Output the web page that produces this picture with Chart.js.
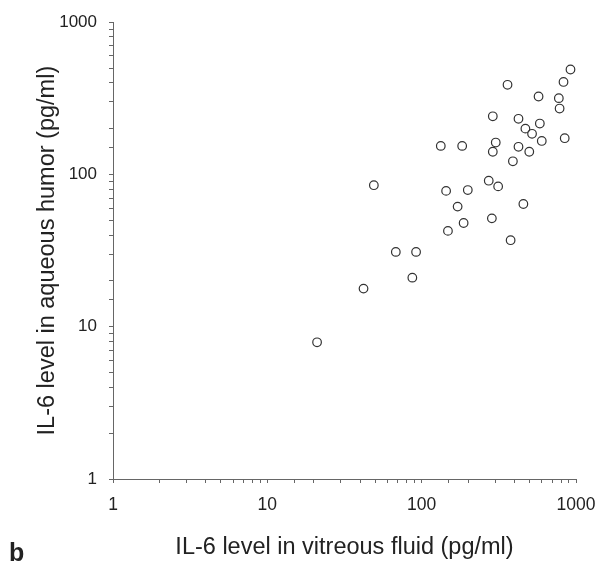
<!DOCTYPE html>
<html>
<head>
<meta charset="utf-8">
<script src="https://cdn.jsdelivr.net/npm/chart.js@4.4.1/dist/chart.umd.min.js"></script>
<style>
  html, body { margin: 0; padding: 0; background: #fff; }
  #wrap { width: 610px; height: 563px; position: relative; }
</style>
</head>
<body>
<div id="wrap"><canvas id="myChart" width="610" height="563"></canvas></div>
<script>
// IL-6 vitreous (x) vs aqueous (y), pg/ml
var vitreous = [21, 42, 49, 68, 92, 87, 133, 183, 144, 199, 171, 187, 148,
  272, 313, 285, 377, 456, 289, 302, 289, 360, 390, 424, 424, 470, 519,
  498, 572, 583, 600, 774, 783, 830, 845, 921];
var aqueous = [7.9, 17.8, 85, 31, 31, 21, 154, 154, 78, 79, 61.5, 48, 42.6,
  91, 83.5, 51.5, 37, 64, 241, 162, 141, 388, 122, 232, 152, 200, 185,
  141, 325, 216, 166, 317, 271, 405, 173, 489];
var majorTicks = [1, 10, 100, 1000];

var points = [];
for (var i = 0; i < vitreous.length; i++) {
  points.push({ x: vitreous[i], y: aqueous[i] });
}

var font = 'Liberation Sans, Arial, sans-serif';

function tickLabel(v) {
  return majorTicks.indexOf(v) >= 0 ? String(v) : '';
}

var panelLetter = {
  id: 'panelLetter',
  afterDraw: function(chart) {
    var c = chart.ctx;
    c.save();
    c.fillStyle = '#222';
    c.font = 'bold 25px ' + font;
    c.textBaseline = 'alphabetic';
    c.fillText('b', 9, 561);
    c.restore();
  }
};

var ctx = document.getElementById('myChart').getContext('2d');
var myChart = new Chart(ctx, {
  type: 'scatter',
  data: {
    datasets: [{
      data: points,
      pointStyle: 'circle',
      pointRadius: 4.3,
      borderWidth: 1.2,
      borderColor: '#333',
      backgroundColor: 'rgba(255,255,255,0)'
    }]
  },
  options: {
    responsive: false,
    animation: false,
    layout: { padding: { left: 0, right: 34, top: 19, bottom: 0 } },
    plugins: { legend: { display: false }, tooltip: { enabled: false } },
    scales: {
      x: {
        type: 'logarithmic',
        min: 1,
        max: 1000,
        afterFit: function(s) { s.height = 84; },
        border: { display: true, color: '#666', width: 1 },
        grid: { drawOnChartArea: false, drawTicks: true, tickLength: 4, color: '#666' },
        ticks: {
          autoSkip: false, maxRotation: 0, padding: 12,
          color: '#222', font: { family: font, size: 17.5 },
          callback: tickLabel
        },
        title: {
          display: true,
          text: 'IL-6 level in vitreous fluid (pg/ml)',
          color: '#222',
          font: { family: font, size: 23.5 },
          padding: { top: 0, bottom: 1 }
        }
      },
      y: {
        type: 'logarithmic',
        min: 1,
        max: 1000,
        afterFit: function(s) { s.width = 113; },
        border: { display: true, color: '#666', width: 1 },
        grid: { drawOnChartArea: false, drawTicks: true, tickLength: 4, color: '#666' },
        ticks: {
          autoSkip: false, padding: 12,
          color: '#222', font: { family: font, size: 17 },
          callback: tickLabel
        },
        title: {
          display: true,
          text: 'IL-6 level in aqueous humor (pg/ml)',
          color: '#222',
          font: { family: font, size: 23.5 },
          padding: { top: 33, bottom: 0 }
        }
      }
    }
  },
  plugins: [panelLetter]
});
</script>
</body>
</html>
